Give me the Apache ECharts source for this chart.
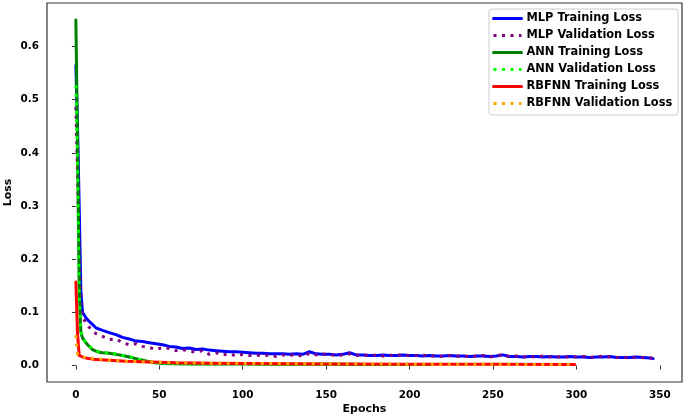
<!DOCTYPE html>
<html>
<head>
<meta charset="utf-8">
<script src="https://cdn.jsdelivr.net/npm/echarts@6/dist/echarts.min.js"></script>
<style>
  html, body { margin: 0; padding: 0; background: #fff; }
  #chart { width: 685px; height: 420px; }
</style>
</head>
<body>
<div id="chart"></div>
<script>
// epochs / loss values
const mlpEpochs = [0, 1, 2, 3, 4, 5, 6, 8, 12, 16, 20, 24, 28, 32, 36, 40, 44, 48, 52, 56, 60, 64, 68, 72, 76, 80, 84, 88, 92, 96,
  100, 104, 108, 112, 116, 120, 124, 128, 132, 136, 140, 144, 148, 152, 156, 160, 164, 168, 172, 176, 180, 184, 188, 192, 196,
  200, 204, 208, 212, 216, 220, 224, 228, 232, 236, 240, 244, 248, 252, 256, 260, 264, 268, 272, 276, 280, 284, 288, 292, 296,
  300, 304, 308, 312, 316, 320, 324, 328, 332, 336, 340, 344, 346];
const mlpTrain = [0.565, 0.45, 0.30, 0.14, 0.100, 0.097, 0.090, 0.083, 0.071, 0.066, 0.062, 0.058, 0.053, 0.050, 0.046, 0.045,
  0.043, 0.041, 0.039, 0.036, 0.035, 0.032, 0.033, 0.030, 0.031, 0.029, 0.028, 0.027, 0.026, 0.026,
  0.025, 0.024, 0.023, 0.023, 0.022, 0.022, 0.022, 0.021, 0.022, 0.021, 0.026, 0.022, 0.021, 0.021, 0.020, 0.021, 0.024, 0.020,
  0.020, 0.019, 0.019, 0.020, 0.019, 0.019, 0.020,
  0.019, 0.019, 0.018, 0.019, 0.018, 0.018, 0.019, 0.018, 0.018, 0.017, 0.018, 0.018, 0.017, 0.018, 0.020, 0.017, 0.017, 0.016,
  0.017, 0.017, 0.016, 0.017, 0.016, 0.016, 0.017,
  0.016, 0.016, 0.015, 0.016, 0.016, 0.017, 0.015, 0.015, 0.015, 0.016, 0.015, 0.014, 0.013];
const mlpVal = [0.486, 0.36, 0.22, 0.12, 0.092, 0.086, 0.080, 0.072, 0.060, 0.055, 0.049, 0.050, 0.043, 0.039, 0.041, 0.036,
  0.034, 0.030, 0.034, 0.032, 0.028, 0.030, 0.027, 0.025, 0.028, 0.021, 0.024, 0.020, 0.022, 0.018,
  0.021, 0.019, 0.020, 0.018, 0.020, 0.017, 0.020, 0.019, 0.021, 0.017, 0.023, 0.020, 0.022, 0.019, 0.021, 0.019, 0.022, 0.019,
  0.021, 0.018, 0.020, 0.018, 0.020, 0.018, 0.021,
  0.018, 0.019, 0.020, 0.017, 0.019, 0.017, 0.019, 0.017, 0.019, 0.016, 0.018, 0.019, 0.016, 0.018, 0.021, 0.016, 0.018, 0.016,
  0.017, 0.016, 0.018, 0.016, 0.017, 0.015, 0.017,
  0.016, 0.017, 0.015, 0.016, 0.018, 0.016, 0.015, 0.016, 0.014, 0.016, 0.015, 0.014, 0.014];

const annEpochs = [0, 1, 2, 3, 4, 5, 6, 8, 10, 12, 14, 16, 20, 24, 28, 32, 36, 40, 44, 48, 52, 60, 70, 80, 100, 120, 140, 160, 180, 200, 213];
const annTrain = [0.650, 0.420, 0.150, 0.062, 0.052, 0.047, 0.043, 0.036, 0.030, 0.027, 0.025, 0.024, 0.023, 0.021, 0.019, 0.016,
  0.013, 0.010, 0.007, 0.005, 0.004, 0.0035, 0.003, 0.003, 0.0027, 0.0025, 0.0023, 0.0022, 0.0021, 0.002, 0.002];
const annVal = [0.527, 0.380, 0.130, 0.066, 0.054, 0.048, 0.044, 0.037, 0.031, 0.028, 0.026, 0.025, 0.023, 0.022, 0.019, 0.017,
  0.013, 0.010, 0.007, 0.005, 0.004, 0.0035, 0.003, 0.003, 0.0027, 0.0025, 0.0023, 0.0022, 0.0021, 0.002, 0.002];

const rbfEpochs = [0, 1, 2, 3, 4, 5, 6, 8, 10, 15, 20, 25, 30, 40, 50, 60, 80, 100, 150, 200, 250, 299];
const rbfTrain = [0.157, 0.060, 0.019, 0.017, 0.016, 0.015, 0.014, 0.013, 0.012, 0.011, 0.010, 0.009, 0.008, 0.007, 0.006,
  0.005, 0.0045, 0.004, 0.003, 0.0025, 0.0022, 0.002];
const rbfVal = [0.057, 0.022, 0.017, 0.019, 0.016, 0.015, 0.015, 0.016, 0.013, 0.012, 0.010, 0.009, 0.008, 0.007, 0.006,
  0.005, 0.0045, 0.004, 0.003, 0.0025, 0.0022, 0.002];

const xTicks = [0, 50, 100, 150, 200, 250, 300, 350];
const yTicks = [0, 0.1, 0.2, 0.3, 0.4, 0.5, 0.6];

const font = 'DejaVu Sans';
const zip = (xs, ys) => xs.map((x, i) => [x, ys[i]]);
const dots = [3, 5.5];

function line(name, xs, ys, color, dotted) {
  return {
    name,
    type: 'line',
    data: zip(xs, ys),
    symbol: 'none',
    silent: true,
    animation: false,
    lineStyle: { color, width: 3, type: dotted ? dots : 'solid', cap: dotted ? 'butt' : 'round', join: 'round' },
    itemStyle: { color }
  };
}

// legend entries: line only, no marker
function legendItem(name, color, dotted) {
  return {
    name,
    itemStyle: { opacity: 0 },
    lineStyle: { color, width: 3, type: dotted ? dots : 'solid', opacity: 1 }
  };
}

const chart = echarts.init(document.getElementById('chart'));
chart.setOption({
  backgroundColor: '#fff',
  animation: false,
  grid: {
    left: 47, right: 3, top: 3, bottom: 38,
    outerBoundsMode: 'none',
    show: true, borderColor: '#333', borderWidth: 1.2, backgroundColor: 'transparent'
  },
  legend: {
    orient: 'vertical',
    left: 489, top: 9,
    padding: [4, 6, 6, 3],
    itemWidth: 28, itemHeight: 11, itemGap: 6,
    backgroundColor: 'rgba(255,255,255,0.85)',
    borderColor: '#cccccc', borderWidth: 1, borderRadius: 3,
    textStyle: { fontFamily: font, fontWeight: 'bold', fontSize: 11.4, color: '#000' },
    data: [
      legendItem('MLP Training Loss', '#0000ff', false),
      legendItem('MLP Validation Loss', '#800080', true),
      legendItem('ANN Training Loss', '#008000', false),
      legendItem('ANN Validation Loss', '#00ff00', true),
      legendItem('RBFNN Training Loss', '#ff0000', false),
      legendItem('RBFNN Validation Loss', '#ffa500', true)
    ]
  },
  xAxis: {
    type: 'value',
    min: -17.3, max: 363.3,
    name: 'Epochs', nameLocation: 'middle', nameGap: 22, nameMoveOverlap: false,
    nameTextStyle: { fontFamily: font, fontWeight: 'bold', fontSize: 11, color: '#000' },
    axisLine: { show: false },
    splitLine: { show: false },
    axisTick: { show: true, length: 4, lineStyle: { color: '#333' }, customValues: xTicks },
    axisLabel: { customValues: xTicks, margin: 8, fontFamily: font, fontWeight: 'bold', fontSize: 10.4, color: '#000' }
  },
  yAxis: {
    type: 'value',
    min: -0.031, max: 0.682,
    name: 'Loss', nameLocation: 'middle', nameGap: 33, nameRotate: 90, nameMoveOverlap: false,
    nameTextStyle: { fontFamily: font, fontWeight: 'bold', fontSize: 11, color: '#000' },
    axisLine: { show: false },
    splitLine: { show: false },
    axisTick: { show: true, length: 4, lineStyle: { color: '#333' }, customValues: yTicks },
    axisLabel: {
      customValues: yTicks, margin: 8,
      formatter: v => v.toFixed(1),
      fontFamily: font, fontWeight: 'bold', fontSize: 10.4, color: '#000'
    }
  },
  series: [
    line('MLP Training Loss', mlpEpochs, mlpTrain, '#0000ff', false),
    line('MLP Validation Loss', mlpEpochs, mlpVal, '#800080', true),
    line('ANN Training Loss', annEpochs, annTrain, '#008000', false),
    line('ANN Validation Loss', annEpochs, annVal, '#00ff00', true),
    line('RBFNN Training Loss', rbfEpochs, rbfTrain, '#ff0000', false),
    line('RBFNN Validation Loss', rbfEpochs, rbfVal, '#ffa500', true)
  ]
});
</script>
</body>
</html>
